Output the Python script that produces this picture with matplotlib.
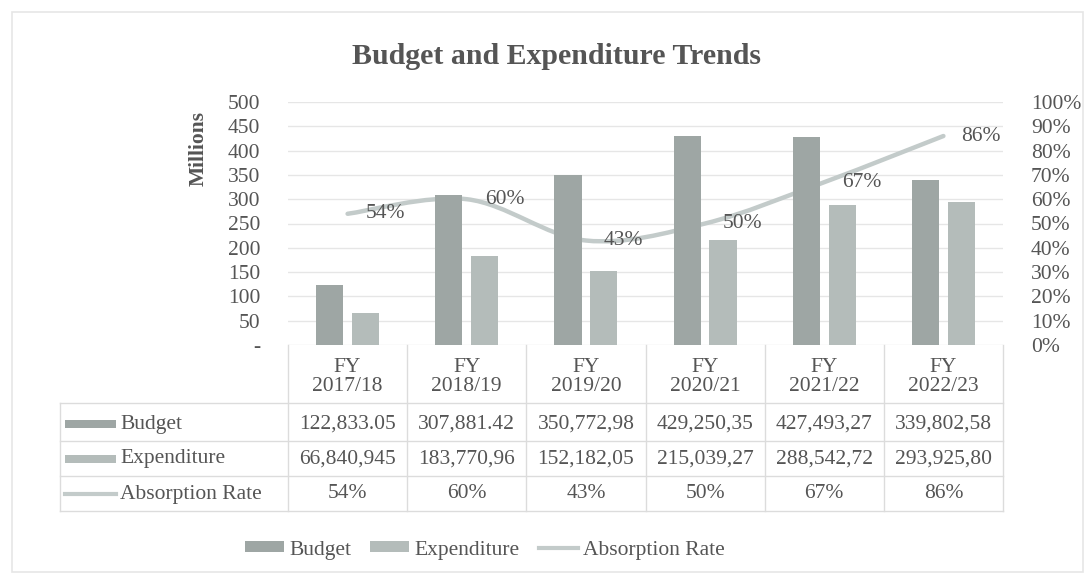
import matplotlib
matplotlib.use("Agg")
import matplotlib.pyplot as plt
from matplotlib.path import Path
from matplotlib.patches import PathPatch, Rectangle, Patch
from matplotlib.lines import Line2D
from matplotlib.transforms import blended_transform_factory
import matplotlib.ticker as mticker

# ---------------- data ----------------
categories = ["FY\n2017/18", "FY\n2018/19", "FY\n2019/20", "FY\n2020/21", "FY\n2021/22", "FY\n2022/23"]
budget_m = [122.833, 307.881, 350.773, 429.250, 427.493, 339.803]          # millions
expenditure_m = [66.841, 183.771, 152.182, 215.039, 288.543, 293.926]      # millions
absorption = [0.54, 0.60, 0.43, 0.50, 0.67, 0.86]
budget_txt = ["122,833.05", "307,881.42", "350,772,98", "429,250,35", "427,493,27", "339,802,58"]
expend_txt = ["66,840,945", "183,770,96", "152,182,05", "215,039,27", "288,542,72", "293,925,80"]
rate_txt = ["54%", "60%", "43%", "50%", "67%", "86%"]
row_labels = ["Budget", "Expenditure", "Absorption Rate"]
left_ticks = [0, 50, 100, 150, 200, 250, 300, 350, 400, 450, 500]
right_ticks = [0, 0.1, 0.2, 0.3, 0.4, 0.5, 0.6, 0.7, 0.8, 0.9, 1.0]
title = "Budget and Expenditure Trends"
ylabel = "Millions"

# ---------------- style ----------------
FONT = "Liberation Serif"
plt.rcParams["font.family"] = [FONT, "DejaVu Serif"]
TXT = "#555555"
C_BUD = "#9ea6a4"
C_EXP = "#b4bcba"
C_LINE = "#c3cbca"
C_GRID = "#e6e6e6"
C_TAB = "#dcdcdc"
FS = 15.5

W, H = 1085, 575
fig = plt.figure(figsize=(W / 100, H / 100), dpi=100)
fig.patch.set_facecolor("white")

def fy(py):
    return 1 - py / H

def fx(px):
    return px / W

# chart border
fig.add_artist(Rectangle((fx(12), fy(572)), fx(1071), (560) / H, transform=fig.transFigure,
                         fill=False, edgecolor="#e6e6e6", lw=1.2))

ax_l, ax_r, ax_t, ax_b = 288, 1003, 102, 345
ax = fig.add_axes([fx(ax_l), fy(ax_b), fx(ax_r - ax_l), (ax_b - ax_t) / H])
ax2 = ax.twinx()

n = len(categories)
x = list(range(n))
bw = 0.228
off = 0.150
ax.bar([i - off for i in x], budget_m, width=bw, color=C_BUD, zorder=3)
ax.bar([i + off for i in x], expenditure_m, width=bw, color=C_EXP, zorder=3)

ax.set_xlim(-0.5, n - 0.5)
ax.set_ylim(0, 500)
ax2.set_ylim(0, 1)
ax.set_yticks(left_ticks)
ax.set_yticklabels(["-" if v == 0 else str(v) for v in left_ticks])
ax2.set_yticks(right_ticks)
ax2.yaxis.set_major_formatter(mticker.FuncFormatter(lambda v, p: f"{round(v * 100)}%"))
for a in (ax, ax2):
    for s in a.spines.values():
        s.set_visible(False)
    a.tick_params(axis="both", length=0, labelsize=FS, labelcolor=TXT)
ax.set_xticks([])
ax.tick_params(axis="y", pad=20)
ax2.tick_params(axis="y", pad=20)
ax.grid(axis="y", color=C_GRID, lw=1, zorder=0)
ax.set_axisbelow(True)

# smoothed absorption line (Catmull-Rom style Bezier through the data points)
pts = list(zip(x, absorption))
verts = [pts[0]]
codes = [Path.MOVETO]
for i in range(n - 1):
    p0 = pts[i - 1] if i > 0 else pts[i]
    p1 = pts[i]
    p2 = pts[i + 1]
    p3 = pts[i + 2] if i + 2 < n else pts[i + 1]
    c1 = (p1[0] + (p2[0] - p0[0]) / 6, p1[1] + (p2[1] - p0[1]) / 6)
    c2 = (p2[0] - (p3[0] - p1[0]) / 6, p2[1] - (p3[1] - p1[1]) / 6)
    verts += [c1, c2, p2]
    codes += [Path.CURVE4] * 3
ax.add_patch(PathPatch(Path(verts, codes), transform=ax2.transData, fill=False,
                       edgecolor=C_LINE, lw=3.2, zorder=2, capstyle="round"))
for i, v in enumerate(absorption):
    ax2.annotate(rate_txt[i], (i, v), xytext=(13, 0), textcoords="offset points",
                 ha="left", va="center", fontsize=FS, color=TXT, zorder=5)

# y label
fig.text(fx(199), fy(148), ylabel, rotation=90, ha="center", va="center",
         fontsize=FS, color=TXT, fontweight="bold")
# title
fig.text(fx(557), fy(57), title, ha="center", va="center", fontsize=21.5,
         fontweight="bold", color=TXT)

# ---------------- data table ----------------
bt = blended_transform_factory(ax.transData, fig.transFigure)
hlines_y = [403, 441, 476, 511]
row_y = [424, 459, 494]
tab_left_px = 60
for yy in hlines_y:
    fig.add_artist(Line2D([fx(tab_left_px), fx(ax_r)], [fy(yy), fy(yy)], color=C_TAB, lw=1,
                          transform=fig.transFigure))
fig.add_artist(Line2D([fx(tab_left_px), fx(tab_left_px)], [fy(403), fy(511)], color=C_TAB, lw=1,
                      transform=fig.transFigure))
for b in [i - 0.5 for i in range(n + 1)]:
    fig.add_artist(Line2D([b, b], [fy(ax_b), fy(511)], color=C_TAB, lw=1, transform=bt))

for i, c in enumerate(categories):
    fig.text(i, fy(377), c, transform=bt, ha="center", va="center", fontsize=FS,
             color=TXT, linespacing=1.0)
    fig.text(i, fy(row_y[0]), budget_txt[i], transform=bt, ha="center", va="center",
             fontsize=FS, color=TXT)
    fig.text(i, fy(row_y[1]), expend_txt[i], transform=bt, ha="center", va="center",
             fontsize=FS, color=TXT)
    fig.text(i, fy(row_y[2]), rate_txt[i], transform=bt, ha="center", va="center",
             fontsize=FS, color=TXT)

key_x0, key_x1 = 65, 116
fig.add_artist(Rectangle((fx(key_x0), fy(row_y[0] + 4)), fx(key_x1 - key_x0), 8 / H,
                         transform=fig.transFigure, color=C_BUD, lw=0))
fig.add_artist(Rectangle((fx(key_x0), fy(row_y[1] + 4)), fx(key_x1 - key_x0), 8 / H,
                         transform=fig.transFigure, color=C_EXP, lw=0))
fig.add_artist(Line2D([fx(key_x0), fx(key_x1)], [fy(row_y[2]), fy(row_y[2])],
                      color=C_LINE, lw=3, transform=fig.transFigure))
for lab, yy in zip(row_labels, row_y):
    fig.text(fx(120), fy(yy), lab, ha="left", va="center", fontsize=FS, color=TXT)

# ---------------- legend ----------------
handles = [Patch(facecolor=C_BUD, edgecolor="none"),
           Patch(facecolor=C_EXP, edgecolor="none"),
           Line2D([0], [0], color=C_LINE, lw=3)]
fig.legend(handles, row_labels, loc="center", bbox_to_anchor=(fx(485), fy(550)), ncol=3,
           frameon=False, fontsize=FS, labelcolor=TXT, handlelength=1.8,
           handleheight=0.4, handletextpad=0.25, columnspacing=0.9)

fig.savefig("out.png", dpi=100, facecolor="white")
